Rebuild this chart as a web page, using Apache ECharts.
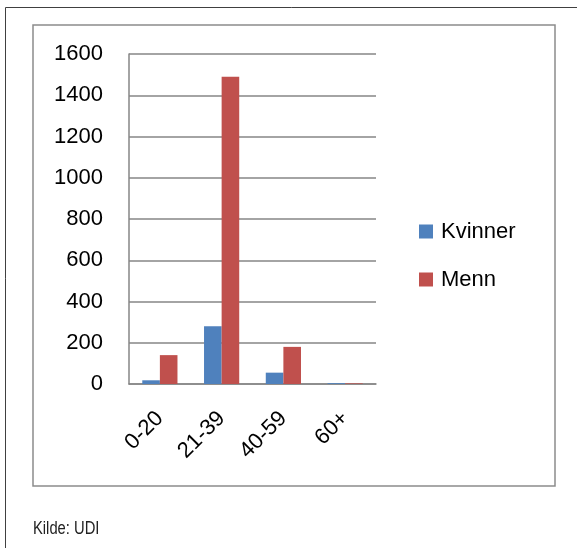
<!DOCTYPE html>
<html>
<head>
<meta charset="utf-8">
<script src="https://cdn.jsdelivr.net/npm/echarts@6/dist/echarts.min.js"></script>
<style>
html,body{margin:0;padding:0;background:#fff;}
#chart{width:577px;height:548px;}
</style>
</head>
<body>
<div id="chart"></div>
<script>
var categories = ['0-20', '21-39', '40-59', '60+'];
var kvinner = [18, 280, 55, 4];
var menn = [140, 1490, 180, 3];
var seriesNames = ['Kvinner', 'Menn'];
var source = 'Kilde: UDI';

var chart = echarts.init(document.getElementById('chart'), null, {renderer: 'canvas'});
var font = 'Liberation Sans, Arial, sans-serif';
chart.setOption({
  animation: false,
  backgroundColor: '#ffffff',
  graphic: [
    {type: 'rect', shape: {x: 5.5, y: 7.5, width: 600, height: 600}, style: {fill: 'none', stroke: '#404040', lineWidth: 1}, z: -10},
    {type: 'rect', shape: {x: 33, y: 25, width: 522, height: 461}, style: {fill: 'none', stroke: '#8c8c8c', lineWidth: 1.5}, z: -10},
    {type: 'text', x: 33, y: 520, scaleX: 0.82, style: {text: source, fontFamily: font, fontSize: 18, fill: '#222', verticalAlign: 'top', align: 'left'}}
  ],
  grid: {left: 129, right: 201, top: 54, bottom: 164, containLabel: false},
  legend: {
    orient: 'vertical', left: 419, top: 220.5, padding: 0,
    itemWidth: 14, itemHeight: 14, itemGap: 26,
    icon: 'rect',
    textStyle: {fontFamily: font, fontSize: 22, color: '#000', lineHeight: 22, padding: [0, 0, 0, 3]},
    data: seriesNames
  },
  xAxis: {
    type: 'category', data: categories,
    axisLine: {show: true, lineStyle: {color: '#868686', width: 1.5}},
    axisTick: {show: false},
    axisLabel: {rotate: 45, margin: 31, fontFamily: font, fontSize: 22, color: '#000', interval: 0}
  },
  yAxis: {
    type: 'value', min: 0, max: 1600, interval: 200,
    axisLine: {show: true, lineStyle: {color: '#868686', width: 1.5}},
    axisTick: {show: false},
    splitLine: {show: true, lineStyle: {color: '#868686', width: 1.5}},
    axisLabel: {margin: 26, fontFamily: font, fontSize: 22, color: '#000', formatter: function (v) { return String(v); }}
  },
  series: [
    {name: seriesNames[0], type: 'bar', data: kvinner, barWidth: 17.6, barGap: '0%', itemStyle: {color: '#4F81BD'}},
    {name: seriesNames[1], type: 'bar', data: menn, barWidth: 17.6, barGap: '0%', itemStyle: {color: '#C0504D'}}
  ]
});
</script>
</body>
</html>
